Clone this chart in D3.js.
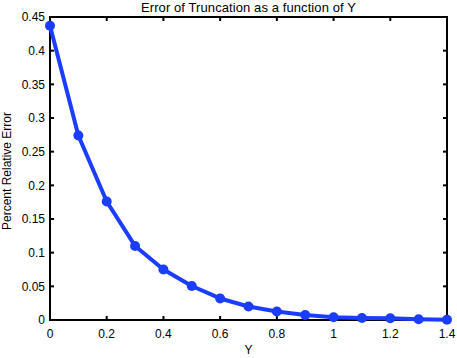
<!DOCTYPE html>
<html><head><meta charset="utf-8">
<script src="https://cdn.jsdelivr.net/npm/d3@7"></script>
<style>body{margin:0;background:#fff}svg{display:block}text{font-family:"Liberation Sans",Arial,sans-serif}</style>
</head><body>
<script>
const xValues = [0, 0.1, 0.2, 0.3, 0.4, 0.5, 0.6, 0.7, 0.8, 0.9, 1.0, 1.1, 1.2, 1.3, 1.4];
const errorValues = [0.437, 0.274, 0.176, 0.110, 0.075, 0.0505, 0.032, 0.020, 0.0125, 0.0075, 0.004, 0.003, 0.0025, 0.0012, 0.0005];
const xTicks = [0, 0.2, 0.4, 0.6, 0.8, 1, 1.2, 1.4];
const yTicks = [0, 0.05, 0.1, 0.15, 0.2, 0.25, 0.3, 0.35, 0.4, 0.45];
const title = "Error of Truncation as a function of Y";
const xLabel = "Y";
const yLabel = "Percent Relative Error";

const W = 457, H = 358;
const m = {left: 50, right: 10, top: 17, bottom: 38};
const svg = d3.select("body").append("svg").attr("width", W).attr("height", H);
const x = d3.scaleLinear().domain([0, 1.4]).range([m.left, W - m.right]);
const y = d3.scaleLinear().domain([0, 0.45]).range([H - m.bottom, m.top]);
const fmt = d => String(+d.toFixed(2));
const fs = 12;

const g = svg.append("g");
const x0 = x.range()[0], x1 = x.range()[1], y0 = y.range()[0], y1 = y.range()[1];
const tl = 4;
g.append("rect").attr("x", x0).attr("y", y1).attr("width", x1 - x0).attr("height", y0 - y1)
  .attr("fill", "none").attr("stroke", "#000").attr("stroke-width", 2);
xTicks.forEach(t => {
  g.append("line").attr("x1", x(t)).attr("x2", x(t)).attr("y1", y0).attr("y2", y0 - tl).attr("stroke", "#000").attr("stroke-width", 2);
  g.append("line").attr("x1", x(t)).attr("x2", x(t)).attr("y1", y1).attr("y2", y1 + tl).attr("stroke", "#000").attr("stroke-width", 2);
  g.append("text").attr("x", x(t)).attr("y", y0 + 18).attr("text-anchor", "middle").attr("font-size", fs).text(fmt(t));
});
yTicks.forEach(t => {
  g.append("line").attr("x1", x0).attr("x2", x0 + tl).attr("y1", y(t)).attr("y2", y(t)).attr("stroke", "#000").attr("stroke-width", 2);
  g.append("line").attr("x1", x1).attr("x2", x1 - tl).attr("y1", y(t)).attr("y2", y(t)).attr("stroke", "#000").attr("stroke-width", 2);
  g.append("text").attr("x", x0 - 5).attr("y", y(t)).attr("dy", "0.35em").attr("text-anchor", "end").attr("font-size", fs).text(fmt(t));
});

const line = d3.line().x((d, i) => x(xValues[i])).y(d => y(d));
svg.append("path").datum(errorValues).attr("d", line).attr("fill", "none")
  .attr("stroke", "#1a3dff").attr("stroke-width", 4).attr("stroke-linejoin", "round");
svg.selectAll("circle.pt").data(errorValues).enter().append("circle")
  .attr("cx", (d, i) => x(xValues[i])).attr("cy", d => y(d)).attr("r", 5).attr("fill", "#1a3dff");

function fit(sel, target) {
  const n = sel.text().length;
  const L = sel.node().getComputedTextLength();
  sel.attr("letter-spacing", ((target - L) / (n - 1)).toFixed(2) + "px");
}
const tt = svg.append("text").attr("x", 141).attr("y", 12).attr("font-size", 13).text(title);
fit(tt, 215);
svg.append("text").attr("x", (x0 + x1) / 2).attr("y", 354).attr("text-anchor", "middle").attr("font-size", fs).text(xLabel);
svg.append("text").attr("transform", `translate(11,${171}) rotate(-90)`).attr("text-anchor", "middle").attr("font-size", fs).text(yLabel);
</script>
</body></html>
